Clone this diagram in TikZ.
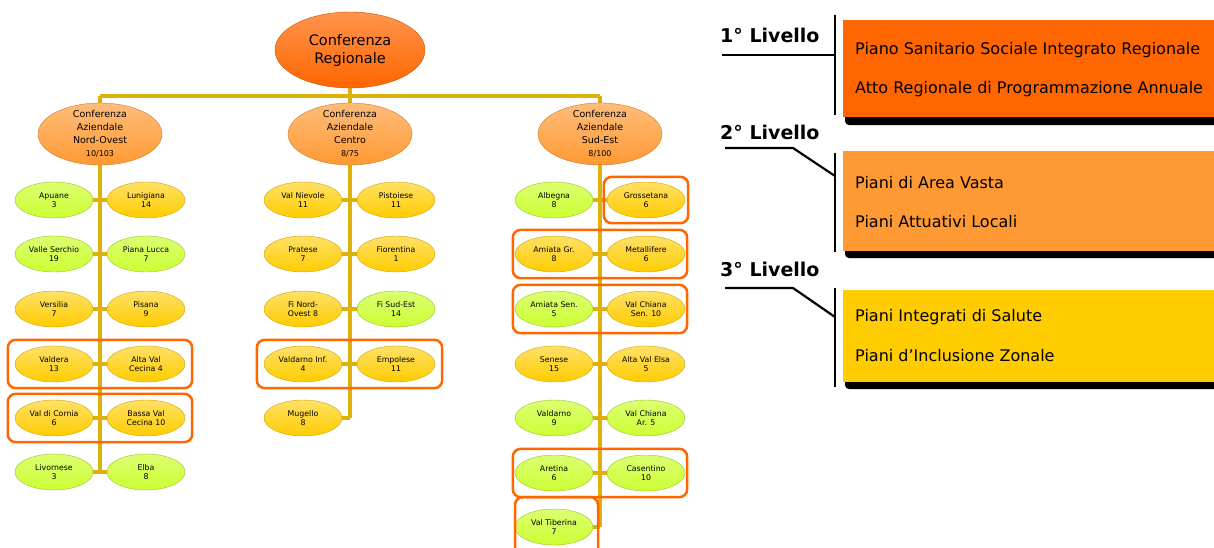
\documentclass[tikz,border=0pt]{standalone}
\usepackage{fontspec}
\setmainfont{DejaVu Sans}
\usetikzlibrary{shapes.geometric,fit}
\pgfdeclarelayer{bg}
\pgfsetlayers{bg,main}
\definecolor{rootor}{RGB}{255,102,0}
\definecolor{midor}{RGB}{255,153,51}
\definecolor{leafy}{RGB}{255,204,0}
\definecolor{leafg}{RGB}{204,255,51}
\definecolor{connc}{RGB}{222,176,10}
\definecolor{grpor}{RGB}{255,102,0}
\definecolor{lvone}{RGB}{255,102,0}
\definecolor{lvtwo}{RGB}{255,153,51}
\definecolor{lvthree}{RGB}{255,204,0}
\tikzset{
  conn/.style={draw=connc, line width=3.5pt},
  leafbase/.style={ellipse, minimum width=78pt, minimum height=36pt, inner sep=0pt, align=center,
    font=\fontsize{7.8}{9.5}\selectfont, line width=0.4pt},
  yl/.style={leafbase, top color=leafy!60!white, bottom color=leafy, draw=leafy!80!black},
  gl/.style={leafbase, top color=leafg!70!white, bottom color=leafg, draw=leafg!75!black},
  midell/.style={ellipse, minimum width=124pt, minimum height=62pt, inner sep=0pt,
    top color=midor!65!white, bottom color=midor, draw=midor!80!black, line width=0.4pt},
  midtxt/.style={align=center, inner sep=0pt, font=\fontsize{9.5}{13}\selectfont},
  rootell/.style={ellipse, minimum width=150pt, minimum height=76pt, inner sep=0pt, align=center,
    top color=rootor!70!white, bottom color=rootor, draw=rootor!80!black, line width=0.4pt,
    font=\fontsize{14.5}{18}\selectfont},
  grp/.style={draw=grpor, line width=2.5pt, rounded corners=8pt, inner ysep=6pt},
  lvl/.style={anchor=west, inner sep=0pt, font=\fontsize{19}{22}\bfseries\selectfont},
  lvline/.style={draw=black, line width=2.2pt},
  lbox/.style={rectangle, anchor=north west, inner sep=0pt, minimum width=371pt},
  ptxt/.style={anchor=west, inner sep=0pt, font=\fontsize{16}{18}\selectfont},
}
\begin{document}
\begin{tikzpicture}[x=1pt,y=-1pt]
\useasboundingbox (0,0) rectangle (1214,547);

% ---------- coordinates for connectors
\coordinate (bar) at (350,96);
\coordinate (jl6) at (100,472);
\coordinate (jc5) at (350,418);
\coordinate (jr7) at (600,527);

% ---------- ellipses
\node[rootell] (root) at (350,50) {Conferenza\\Regionale};
\node[midell] (no) at (100,134) {};
\node[midell] (ce) at (350,134) {};
\node[midell] (se) at (600,134) {};
\node[midtxt] (noT) at (no) {Conferenza\\Aziendale\\Nord-Ovest\\{\fontsize{8}{10}\selectfont 10/103}};
\node[midtxt] (ceT) at (ce) {Conferenza\\Aziendale\\Centro\\{\fontsize{8}{10}\selectfont 8/75}};
\node[midtxt] (seT) at (se) {Conferenza\\Aziendale\\Sud-Est\\{\fontsize{8}{10}\selectfont 8/100}};

% left column
\node[gl] (apuane) at (54,200) {Apuane\\3};
\node[yl] (luni) at (146,200) {Lunigiana\\14};
\node[gl] (serchio) at (54,254) {Valle Serchio\\19};
\node[gl] (lucca) at (146,254) {Piana Lucca\\7};
\node[yl] (versilia) at (54,309) {Versilia\\7};
\node[yl] (pisana) at (146,309) {Pisana\\9};
\node[yl] (valdera) at (54,364) {Valdera\\13};
\node[yl] (altacec) at (146,364) {Alta Val\\Cecina 4};
\node[yl] (cornia) at (54,418) {Val di Cornia\\6};
\node[yl] (bassacec) at (146,418) {Bassa Val\\Cecina 10};
\node[gl] (livornese) at (54,472) {Livornese\\3};
\node[gl] (elba) at (146,472) {Elba\\8};

% center column
\node[yl] (nievole) at (303,200) {Val Nievole\\11};
\node[yl] (pistoiese) at (396,200) {Pistoiese\\11};
\node[yl] (pratese) at (303,254) {Pratese\\7};
\node[yl] (fiorentina) at (396,254) {Fiorentina\\1};
\node[yl] (finord) at (303,309) {Fi Nord-\\Ovest 8};
\node[gl] (fisud) at (396,309) {Fi Sud-Est\\14};
\node[yl] (valdinf) at (303,364) {Valdarno Inf.\\4};
\node[yl] (empolese) at (396,364) {Empolese\\11};
\node[yl] (mugello) at (303,418) {Mugello\\8};

% right column
\node[gl] (albegna) at (554,200) {Albegna\\8};
\node[yl] (grossetana) at (646,200) {Grossetana\\6};
\node[yl] (amiatagr) at (554,254) {Amiata Gr.\\8};
\node[yl] (metall) at (646,254) {Metallifere\\6};
\node[gl] (amiatasen) at (554,309) {Amiata Sen.\\5};
\node[yl] (chianasen) at (646,309) {Val Chiana\\Sen. 10};
\node[yl] (senese) at (554,364) {Senese\\15};
\node[yl] (elsa) at (646,364) {Alta Val Elsa\\5};
\node[gl] (valdarno) at (554,418) {Valdarno\\9};
\node[gl] (chianaar) at (646,418) {Val Chiana\\Ar. 5};
\node[gl] (aretina) at (554,473) {Aretina\\6};
\node[gl] (casentino) at (646,473) {Casentino\\10};
\node[gl] (tiberina) at (554,527) {Val Tiberina\\7};

% ---------- connectors (behind)
\begin{pgfonlayer}{bg}
\draw[conn] (root.south) -- (bar);
\draw[conn] (no.north |- bar) -- (se.north |- bar);
\draw[conn] (no.north |- bar) -- (no.north);
\draw[conn] (ce.north |- bar) -- (ce.north);
\draw[conn] (se.north |- bar) -- (se.north);
\draw[conn] (no.south) -- (jl6);
\draw[conn] (ce.south) -- (jc5);
\draw[conn] (se.south) -- (jr7);
\foreach \a/\b in {apuane/luni,serchio/lucca,versilia/pisana,valdera/altacec,cornia/bassacec,livornese/elba,
  nievole/pistoiese,pratese/fiorentina,finord/fisud,valdinf/empolese,
  albegna/grossetana,amiatagr/metall,amiatasen/chianasen,senese/elsa,valdarno/chianaar,aretina/casentino}
  \draw[conn] (\a.east) -- (\b.west);
\draw[conn] (mugello.east) -- (jc5);
\draw[conn] (tiberina.east) -- (jr7);
\end{pgfonlayer}

% ---------- groups
\node[grp, inner xsep=7pt, fit=(valdera)(altacec)] (g1) {};
\node[grp, inner xsep=7pt, fit=(cornia)(bassacec)] (g2) {};
\node[grp, inner xsep=7pt, fit=(valdinf)(empolese)] (g3) {};
\node[grp, inner xsep=3pt, inner ysep=5pt, fit=(grossetana)] (g4) {};
\node[grp, inner xsep=2pt, fit=(amiatagr)(metall)] (g5) {};
\node[grp, inner xsep=2pt, fit=(amiatasen)(chianasen)] (g6) {};
\node[grp, inner xsep=2pt, fit=(aretina)(casentino)] (g7) {};
\draw[grp] (515,565) -- (515,497) -- (598,497) -- (598,565);

% ---------- levels panel
\fill[black, rounded corners=4pt] (845,110) rectangle (1230,125);
\fill[black, rounded corners=4pt] (845,244) rectangle (1230,258);
\fill[black, rounded corners=4pt] (845,375) rectangle (1230,389);
\node[lbox, fill=lvone, minimum height=97pt] (b1) at (843,20) {};
\node[lbox, fill=lvtwo, minimum height=100pt] (b2) at (843,151) {};
\node[lbox, fill=lvthree, minimum height=92pt] (b3) at (843,290) {};

\node[lvl] (l1) at (720,35) {1° Livello};
\node[lvl] (l2) at (720,132) {2° Livello};
\node[lvl] (l3) at (720,269) {3° Livello};

\draw[lvline] (722,55) -- (835,55);
\draw[lvline] (835,15) -- (835,115);
\draw[lvline] (725,148) -- (793,148) -- (835,176);
\draw[lvline] (835,153) -- (835,252);
\draw[lvline] (725,288) -- (793,288) -- (835,317);
\draw[lvline] (835,288) -- (835,387);

\node[ptxt] (t1a) at (855,50) {Piano Sanitario Sociale Integrato Regionale};
\node[ptxt] (t1b) at (855,89) {Atto Regionale di Programmazione Annuale};
\node[ptxt] (t2a) at (855,183) {Piani di Area Vasta};
\node[ptxt] (t2b) at (855,222) {Piani Attuativi Locali};
\node[ptxt] (t3a) at (855,317) {Piani Integrati di Salute};
\node[ptxt] (t3b) at (855,356) {Piani d’Inclusione Zonale};
\end{tikzpicture}
\end{document}
